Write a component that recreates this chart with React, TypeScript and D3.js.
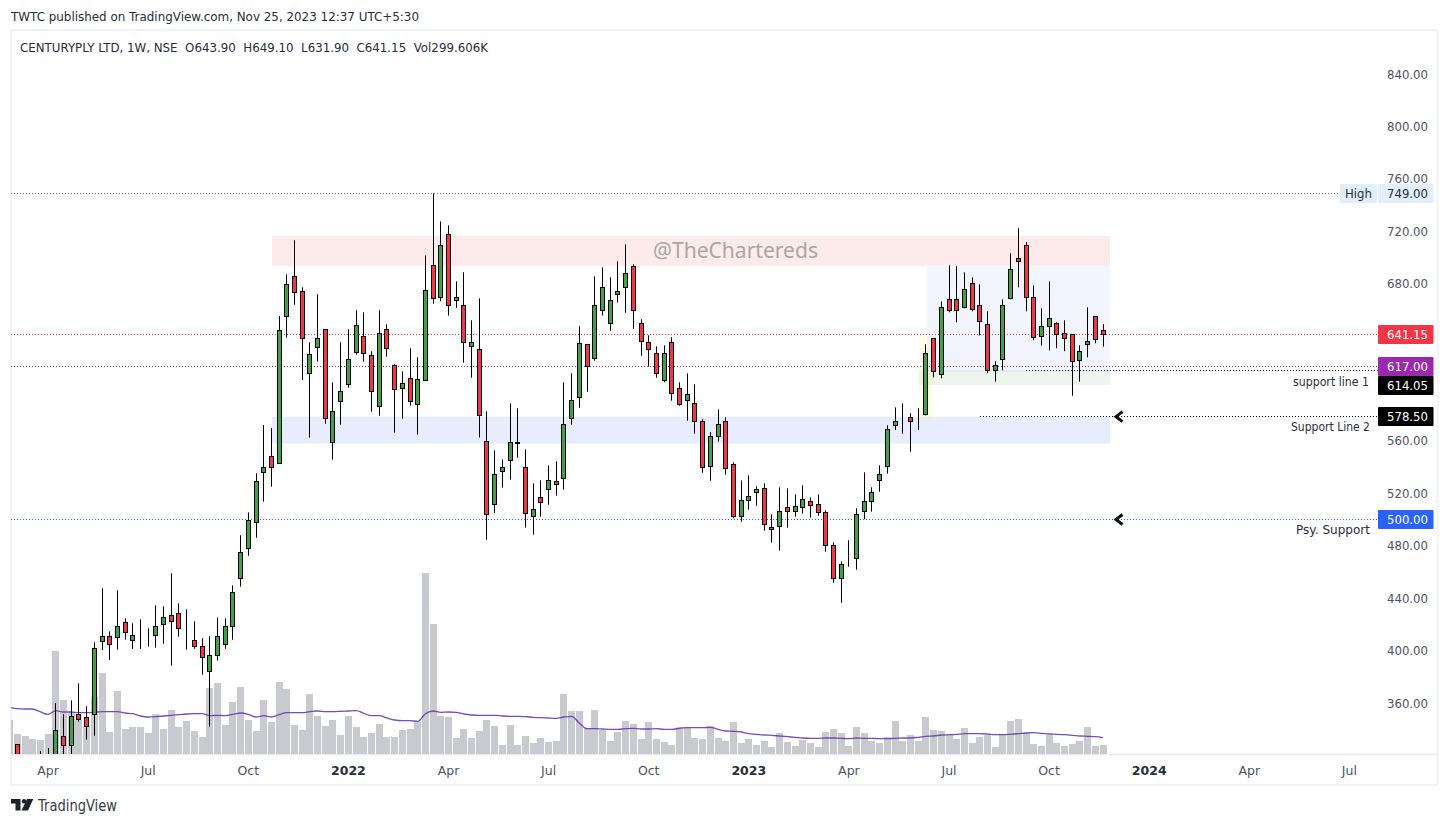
import React from "react";
import * as d3 from "d3";

const opens = [310,328,312,314,310,315,318,334.6,327.7,351.6,348.8,351.4,407.1,410.6,410.1,421.3,407.8,407.8,407.8,411.6,420,426.5,428.1,410.1,407.5,403,384.2,396.4,404.8,418.5,455.2,478,497.9,536,548,542.9,655.1,685.6,674.2,611.6,631.4,645.2,559,590.2,603.2,627.6,639.8,625.3,586.4,645.2,617.7,600.2,607.8,587.9,606.2,694,669.6,717.7,667.3,663.5,632.2,629.9,559.7,511.6,536.8,545.2,558.2,539.9,502.5,517,523.1,529.2,531.5,577.2,593.3,633.7,622.9,659.7,649.8,671.9,677.2,693.2,649.8,635.3,626.8,606.2,635.3,600.2,591,588.7,575,540.6,563.5,575,542.2,502.5,514.7,520.8,523.8,494.1,494.8,509.3,506.3,509.3,513.9,511.6,505.5,480.3,455.2,468.1,470.4,506.3,513.9,529.9,540.6,571.9,575,578,579.5,580.3,638.3,610.8,668.1,668.1,662,680.3,663.5,649,613.9,622.3,668.8,699.4,709.3,669.6,639.8,647.5,649.8,642.1,641.4,621.5,633.7,655.1,643.9];
const closes = [300,315,315,310,318,320,339.2,327.7,349.8,347.6,342.2,401.7,410.9,404.8,418.2,413.9,411.3,407.8,407.8,418.2,425.4,422.3,417,410.1,403.3,394.9,396.1,410.6,418.2,444.2,474.7,499.4,528.9,539.6,539.9,644.4,679.5,673.4,638.3,626.1,638.3,577.2,582.6,597.8,622.3,648.2,626.8,597.8,642.1,630.7,599.4,604,590.2,607,674.9,668.8,709.3,663.5,669.6,635.3,635.3,579.5,504,534.5,539.9,559,559,504.8,507.8,513.2,529.9,526.9,572.7,591,634.5,616.9,663.5,677.2,667.3,674.2,687.9,659.7,636,629.9,611.6,626.8,596.3,587.9,595.6,575,539.9,563.5,572.7,539.1,502.5,514.7,517.7,523.1,496.4,492.5,506.3,506.3,510.1,515.4,510.9,505.5,480.3,455.2,465.8,468.1,504,513.9,520.8,534.5,568.9,575,575,575,579.5,626.8,613.1,662,659.7,659.7,675.7,660.4,651.3,613.9,617.7,663.5,691,697.1,669.6,639.1,647.5,653.6,641.4,638.3,620.7,628.4,636,637.5,641.15];
const highs = [318,328.7,319,320,323.4,325.6,360,351.4,362,375,357.5,406.3,447.5,414.7,446,424.6,420.8,423.9,417,434.5,433.8,459,436.1,431.5,422.3,409.4,410.9,425.4,424.6,449.8,488,505.5,535.3,572.1,569.8,655.3,687.1,713.1,677.2,635.3,671.9,645.2,604.7,635.3,645.2,659.7,658.1,628.4,659.7,649,618.5,613.1,630.7,623.8,701.6,749,727.6,724.5,681.8,688.7,652,668.8,582.6,552.8,545.9,588.7,584.9,553.6,527.6,529.9,541.4,544.4,604.7,611.6,647.5,633.7,685.6,692.5,684.8,697.1,710,694.8,652.8,640.6,632.2,633,639.1,604.7,611.6,603.2,576.5,566.8,584.1,578,543.7,529.9,533.8,525.4,527.6,504,524.6,523.8,519.2,526.1,516.9,519.2,507,482.6,468.1,484.2,508.6,536,524.6,541.4,571.9,585.6,588.7,581.1,584.9,633.7,638.5,666.5,694,693.3,688.7,684.8,679.5,658.9,620.8,668.1,703.2,722.3,711.6,678.7,661.2,681.8,650.5,652,641.6,632.9,661.9,655.3,649.1];
const lows = [290,310,305,306,305,308,312,316,318,345.7,332,335,400.4,392.8,400.7,408.3,401.2,401.2,403,402.2,405.2,388.5,410.6,400.7,401.4,381.6,341.9,392.3,401.4,408.3,448.7,472.4,486.1,513.6,525,542.4,638.8,663.9,606.5,562.5,620.5,573.1,545.7,572.4,600.6,625.8,620.5,582.3,579.2,624.3,566.3,576.9,586.9,564.7,606.2,664.7,666.5,655.6,661.6,619.7,608.2,562.5,484.6,504.8,524.3,530.4,547.2,493.8,488.4,502.2,511.3,518.2,522.8,572.4,585.3,597.5,621.2,655.6,644.1,665.5,657.8,645.6,625,616.6,608.2,604.7,590.7,586.9,575.4,565.5,535.7,529.6,559.4,534.2,500.9,498.3,507.5,510.5,491.5,482.3,476.2,493.8,502.2,504.5,501.4,502.9,475.4,451.8,436.5,464,461.7,500.2,506,521.2,535,568.3,565.5,551.8,568.3,579.5,608.5,607.8,658.2,650.5,661.2,658.9,640.6,611.6,605.2,613.9,668.1,677.2,658.9,636.8,632.7,629.1,630.7,628.4,594.5,605.2,623.8,634.5,631.9];
const volumes = [1132,666,599,500,466,666,3430,1798,1399,1132,932,1898,2697,733,2098,833,899,899,699,1332,833,1465,899,1099,766,566,2198,2364,966,1732,2231,1132,766,1798,1066,2398,2165,966,799,1998,1265,932,1132,633,1265,899,566,699,999,566,566,799,833,1066,6027,4329,1265,1232,533,833,533,766,1132,932,300,966,300,599,366,533,400,433,1998,1432,1432,866,1465,799,433,733,1099,999,500,1066,500,400,300,899,899,533,500,932,533,433,1066,366,500,300,433,233,699,400,266,466,366,233,733,833,699,266,899,699,433,366,566,1099,433,633,433,1232,799,766,633,500,866,366,566,633,233,633,1099,1166,699,333,266,633,366,266,333,433,899,266,299.606];
const volumeMA = [1555,1508,1499,1499,1399,1322,1442,1399,1399,1375,1375,1389,1409,1409,1409,1365,1342,1265,1232,1242,1265,1289,1309,1332,1342,1342,1275,1289,1275,1322,1365,1322,1232,1275,1232,1309,1375,1375,1375,1409,1432,1409,1409,1422,1432,1442,1355,1275,1275,1199,1132,1109,1109,1089,1342,1432,1389,1399,1389,1332,1299,1289,1289,1289,1265,1255,1255,1242,1222,1209,1199,1189,1232,1255,1022,842,842,833,822,822,842,856,833,833,842,822,822,856,876,876,876,889,822,766,756,733,676,656,633,623,599,576,556,533,523,523,533,533,523,509,533,523,523,509,509,523,533,533,556,589,599,633,643,656,676,676,676,666,643,643,656,676,699,709,689,666,656,643,623,599,589,576,543];

const priceTicks = [840,800,760,720,680,640,600,560,520,480,440,400,360];
const hiddenTicks = [640,600];
const timeLabels = ["Apr","Jul","Oct","2022","Apr","Jul","Oct","2023","Apr","Jul","Oct","2024","Apr","Jul"];
const timeIndex = [5,18,31,44,57,70,83,96,109,122,135,148,161,174];

const W = 1449, H = 825;
const paneL = 11, paneR = 1378, paneT = 31, paneB = 754;
const x = d3.scaleLinear().domain([0, 142]).range([9.6, 1103]);
const y = d3.scaleLinear().domain([360, 840]).range([703, 74]);
const yVol = d3.scaleLinear().domain([0, 6027]).range([754, 573]);

const RED = "#f23645", GREEN = "#43a047";
const FONT = "'DejaVu Sans', Verdana, sans-serif";
const AXIS = "Noto Sans, sans-serif";

type Tag = { value: number; label: string; bg: string; fg: string; shift?: number };
const tags: Tag[] = [
  { value: 749, label: "749.00", bg: "#e1effd", fg: "#2a2e39" },
  { value: 641.15, label: "641.15", bg: RED, fg: "#ffffff" },
  { value: 617, label: "617.00", bg: "#9c27b0", fg: "#ffffff" },
  { value: 614.05, label: "614.05", bg: "#000000", fg: "#ffffff", shift: 15 },
  { value: 578.5, label: "578.50", bg: "#000000", fg: "#ffffff" },
  { value: 500, label: "500.00", bg: "#2962ff", fg: "#ffffff" },
];
const hLines = [
  { value: 749, from: paneL, to: 1340, color: "#787b86" },
  { value: 641.15, from: paneL, to: paneR, color: RED },
  { value: 617, from: paneL, to: paneR, color: "#9c27b0" },
  { value: 614.05, from: 1026, to: paneR, color: "#000000" },
  { value: 578.5, from: 980, to: paneR, color: "#000000" },
  { value: 500, from: paneL, to: paneR, color: "#2962ff" },
];
const zones = [
  { x0: 272, x1: 1110, top: 716.6, bot: 693.7, fill: "#fdebeb" },
  { x0: 272, x1: 1110, top: 578.5, bot: 557.9, fill: "#e8edfd" },
  { x0: 927, x1: 1110, top: 693.7, bot: 612.5, fill: "#f2f5fe" },
  { x0: 919, x1: 1110, top: 614.05, bot: 602.6, fill: "rgba(76,160,76,0.1)" },
  { x0: 919, x1: 933, top: 640, bot: 576.7, fill: "rgba(255,240,60,0.13)" },
];
const notes = [
  { text: "support line 1", xEnd: 1369, value: 605, len: 76, size: 12 },
  { text: "Support Line 2", xEnd: 1370, value: 571, len: 79, size: 12 },
  { text: "Psy. Support", xEnd: 1370, value: 492, len: 74, size: 12.5 },
];

const px = (v: number) => Math.floor(v);
const sn = (v: number) => Math.floor(v) + 0.5;

export default function App() {
  const maLine = d3.line<number>().x((_, i) => x(i)).y((d) => yVol(d)).curve(d3.curveMonotoneX)(volumeMA) as string;
  return (
    <svg width={W} height={H} viewBox={`0 0 ${W} ${H}`} style={{ position: "fixed", left: 0, top: 0, background: "#fff", display: "block" }}>
      <defs>
        <clipPath id="pane"><rect x={paneL} y={paneT} width={paneR - paneL + 60} height={paneB - paneT} /></clipPath>
      </defs>
      <text x={11} y={21} fontFamily={FONT} fontSize={13} fill="#2a2e39" textLength={408} lengthAdjust="spacingAndGlyphs">TWTC published on TradingView.com, Nov 25, 2023 12:37 UTC+5:30</text>
      <rect x={11} y={30} width={1426.5} height={755} fill="none" stroke="#f0f3fa" strokeWidth={2} />
      <line x1={11} x2={1437} y1={754.5} y2={754.5} stroke="#e9ebf3" strokeWidth={1.5} />
      <text x={20} y={52} fontFamily={FONT} fontSize={13} fill="#2a2e39" textLength={468} lengthAdjust="spacingAndGlyphs" xmlSpace="preserve">CENTURYPLY LTD, 1W, NSE  O643.90  H649.10  L631.90  C641.15  Vol299.606K</text>

      <g clipPath="url(#pane)">
        {zones.map((z, i) => (
          <rect key={i} x={z.x0} width={z.x1 - z.x0} y={y(z.top)} height={y(z.bot) - y(z.top)} fill={z.fill} />
        ))}
        <g fill="#c9cad0">
          {volumes.map((v, i) => (
            <rect key={i} x={px(x(i)) - 3} width={7} y={yVol(v)} height={754 - yVol(v)} />
          ))}
        </g>
        <path d={maLine} fill="none" stroke="#673ab7" strokeWidth={1.3} opacity={0.9} />
        {hLines.map((l, i) => (
          <line key={i} x1={l.from} x2={l.to} y1={sn(y(l.value))} y2={sn(y(l.value))} stroke={l.color} strokeWidth={1} strokeDasharray="1 2" />
        ))}
        <text x={653} y={258} fontFamily={AXIS} fontSize={21.5} fill="#9c9a9a" opacity={0.85} textLength={165} lengthAdjust="spacingAndGlyphs">@TheChartereds</text>
        {opens.map((o, i) => {
          const c = closes[i];
          const cx = px(x(i));
          const t = sn(y(Math.max(o, c)));
          const b = sn(y(Math.min(o, c)));
          return (
            <g key={i}>
              <line x1={cx + 0.5} x2={cx + 0.5} y1={y(highs[i])} y2={y(lows[i])} stroke="#000" strokeWidth={1} />
              <rect x={cx - 1.5} width={4} y={t} height={b - t} fill={c < o ? RED : GREEN} stroke="#000" strokeWidth={1} />
            </g>
          );
        })}
      </g>

      {[578.5, 500].map((v) => (
        <path key={v} d={`M1122.5,${y(v) - 5} L1116,${y(v)} L1122.5,${y(v) + 5}`} fill="none" stroke="#111" strokeWidth={3} />
      ))}

      {priceTicks.filter((t) => !hiddenTicks.includes(t)).map((t) => (
        <text key={t} x={1428} y={y(t) + 4.5} textAnchor="end" fontFamily={FONT} fontSize={13} fill="#50535e" textLength={41} lengthAdjust="spacingAndGlyphs">{d3.format(".2f")(t)}</text>
      ))}

      {notes.map((n) => (
        <text key={n.text} x={n.xEnd - n.len} y={y(n.value) + 4} fontFamily={FONT} fontSize={n.size} fill="#2a2e39" textLength={n.len} lengthAdjust="spacingAndGlyphs">{n.text}</text>
      ))}

      <rect x={1340} y={184} width={37} height={19} rx={1.5} fill="#e1effd" />
      <text x={1358.5} y={198} textAnchor="middle" fontFamily={FONT} fontSize={13} fill="#2a2e39" textLength={27} lengthAdjust="spacingAndGlyphs">High</text>
      {tags.map((tg) => {
        const cy = Math.floor(y(tg.value)) + (tg.shift ?? 0);
        return (
          <g key={tg.label}>
            <rect x={1378} y={cy - 9} width={55.5} height={19} rx={1} fill={tg.bg} />
            <text x={1428} y={cy + 5} textAnchor="end" fontFamily={FONT} fontSize={13} fill={tg.fg} textLength={41} lengthAdjust="spacingAndGlyphs">{tg.label}</text>
          </g>
        );
      })}

      {timeLabels.map((t, i) => (
        <text key={i} x={x(timeIndex[i])} y={775} textAnchor="middle" fontFamily={FONT} fontSize={12.5} fontWeight={/^\d/.test(t) ? 700 : 400} fill={/^\d/.test(t) ? "#2a2e39" : "#50535e"}>{t}</text>
      ))}

      <g fill="#1e222d">
        <path d="M11,799 H20.5 V810.5 H15.5 V803.5 H11 Z" />
        <circle cx={24} cy={801.2} r={2.2} />
        <path d="M27,799 H33.3 L28,810.5 H21.5 Z" />
      </g>
      <text x={38} y={811} fontFamily={FONT} fontSize={15} fill="#363a45" textLength={79} lengthAdjust="spacingAndGlyphs">TradingView</text>
    </svg>
  );
}
